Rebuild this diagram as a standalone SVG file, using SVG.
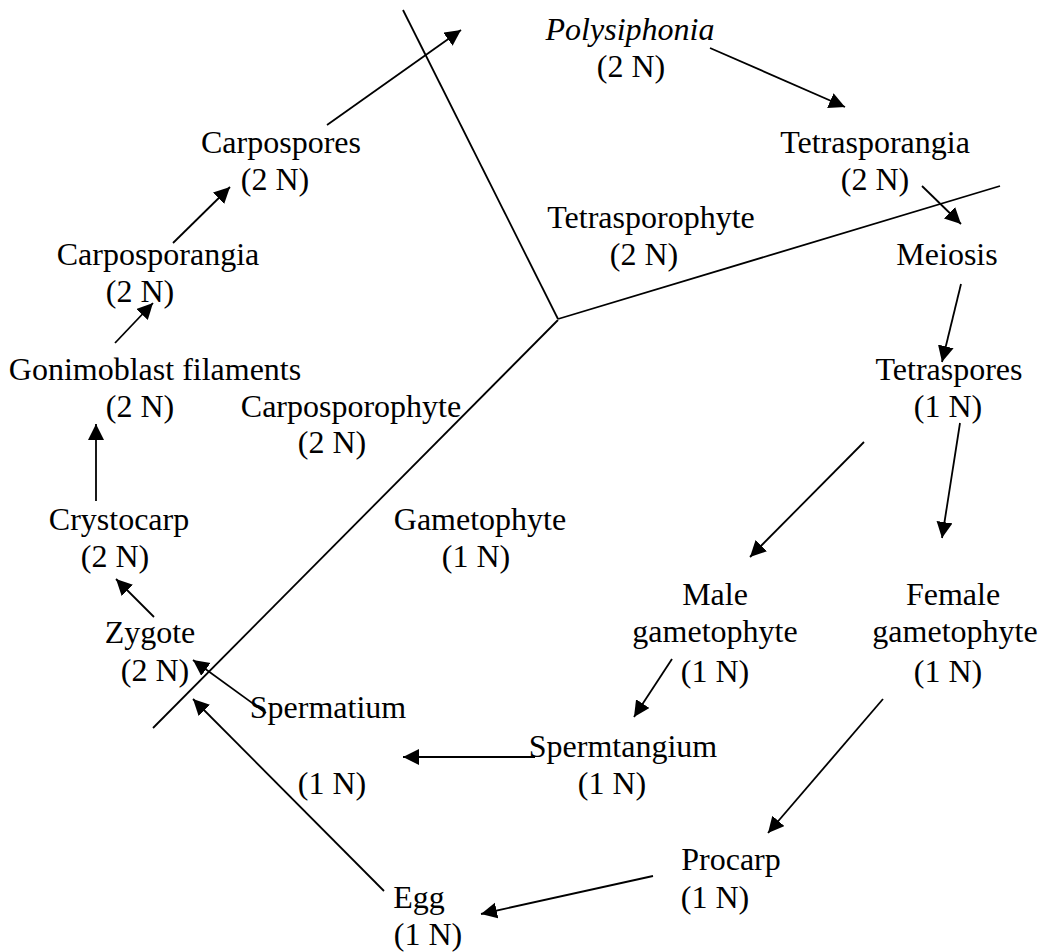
<svg xmlns="http://www.w3.org/2000/svg" width="1040" height="952" viewBox="0 0 1040 952">
  <style>
    text { font-family: "Liberation Serif", "Times New Roman", serif; font-size: 32px; fill: #000; text-anchor: middle; }
    .it { font-style: italic; }
    .div { stroke: #000; stroke-width: 1.8; fill: none; }
    .arr { stroke: #000; stroke-width: 1.8; fill: none; marker-end: url(#head); }
  </style>
  <defs>
    <marker id="head" markerUnits="userSpaceOnUse" markerWidth="18" markerHeight="18" refX="16" refY="8" orient="auto">
      <path d="M0,0 L16,8 L0,16 z" fill="#000"/>
    </marker>
  </defs>
  <rect width="1040" height="952" fill="#fff"/>

  <!-- phase dividers -->
  <g id="dividers">
    <line class="div" x1="403" y1="10" x2="558" y2="319"/>
    <line class="div" x1="558" y1="319" x2="1000" y2="186"/>
    <line class="div" x1="558" y1="320" x2="153" y2="728"/>
  </g>

  <!-- phase labels -->
  <g id="tetrasporophyte"><text x="651" y="228">Tetrasporophyte</text><text x="644" y="265">(2 N)</text></g>
  <g id="carposporophyte"><text x="351" y="417">Carposporophyte</text><text x="332" y="453">(2 N)</text></g>
  <g id="gametophyte"><text x="480" y="530">Gametophyte</text><text x="476" y="567">(1 N)</text></g>

  <!-- stages -->
  <g id="polysiphonia"><text class="it" x="630" y="40">Polysiphonia</text><text x="631" y="77">(2 N)</text></g>
  <g id="tetrasporangia"><text x="875" y="153">Tetrasporangia</text><text x="875" y="190">(2 N)</text></g>
  <g id="meiosis"><text x="947" y="265">Meiosis</text></g>
  <g id="tetraspores"><text x="949" y="380">Tetraspores</text><text x="948" y="417">(1 N)</text></g>
  <g id="male-gametophyte"><text x="715" y="605">Male</text><text x="715" y="642">gametophyte</text><text x="715" y="682">(1 N)</text></g>
  <g id="female-gametophyte"><text x="953" y="605">Female</text><text x="955" y="642">gametophyte</text><text x="948" y="682">(1 N)</text></g>
  <g id="spermtangium"><text x="623" y="757">Spermtangium</text><text x="612" y="794">(1 N)</text></g>
  <g id="spermatium"><text x="328" y="718">Spermatium</text><text x="332" y="794">(1 N)</text></g>
  <g id="procarp"><text x="731" y="870">Procarp</text><text x="715" y="908">(1 N)</text></g>
  <g id="egg"><text x="419" y="908">Egg</text><text x="428" y="945">(1 N)</text></g>
  <g id="zygote"><text x="150" y="643">Zygote</text><text x="155" y="681">(2 N)</text></g>
  <g id="crystocarp"><text x="119" y="530">Crystocarp</text><text x="115" y="567">(2 N)</text></g>
  <g id="gonimoblast"><text x="155" y="380">Gonimoblast filaments</text><text x="140" y="417">(2 N)</text></g>
  <g id="carposporangia"><text x="158" y="265">Carposporangia</text><text x="140" y="302">(2 N)</text></g>
  <g id="carpospores"><text x="281" y="153">Carpospores</text><text x="275" y="190">(2 N)</text></g>

  <!-- life-cycle arrows -->
  <g id="connectors">
    <line class="arr" x1="327" y1="125" x2="461" y2="30"/>
    <line class="arr" x1="710" y1="48" x2="845" y2="107"/>
    <line class="arr" x1="922" y1="186" x2="961" y2="224"/>
    <line class="arr" x1="961" y1="284" x2="942" y2="362"/>
    <line class="arr" x1="864" y1="442" x2="750" y2="557"/>
    <line class="arr" x1="960" y1="423" x2="942" y2="538"/>
    <line class="arr" x1="672" y1="659" x2="634" y2="717"/>
    <line class="arr" x1="883" y1="699" x2="768" y2="833"/>
    <line class="arr" x1="535" y1="757" x2="403" y2="757"/>
    <line class="arr" x1="653" y1="876" x2="481" y2="914"/>
    <line class="arr" x1="384" y1="891" x2="193" y2="699"/>
    <line class="arr" x1="266" y1="713" x2="193" y2="660"/>
    <line class="arr" x1="154" y1="617" x2="116" y2="579"/>
    <line class="arr" x1="96" y1="501" x2="96" y2="424"/>
    <line class="arr" x1="115" y1="343" x2="153" y2="303"/>
    <line class="arr" x1="173" y1="243" x2="230" y2="187"/>
  </g>
</svg>
